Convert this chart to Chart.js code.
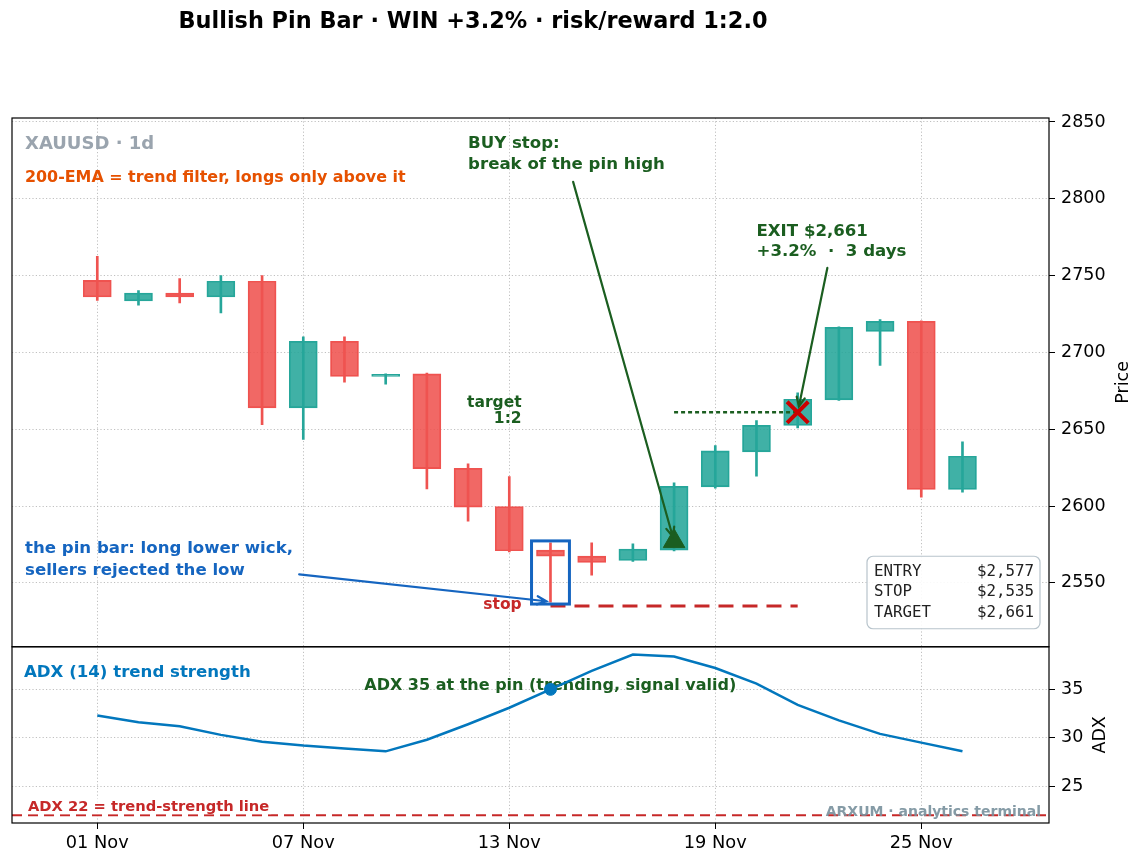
<!DOCTYPE html>
<html>
<head>
<meta charset="utf-8">
<title>Bullish Pin Bar</title>
<script src="https://cdn.jsdelivr.net/npm/chart.js@4.4.1/dist/chart.umd.min.js"></script>
<style>
  html, body { margin: 0; padding: 0; background: #fff; }
  #wrap { width: 1144px; height: 865px; }
</style>
</head>
<body>
<div id="wrap"><canvas id="chart" width="1144" height="865"></canvas></div>
<script>
// daily candles, index 0 = 01 Nov
const opens  = [2746.9, 2733.5, 2738.6, 2736.1, 2746.3, 2663.9, 2707.3, 2684.3, 2686.0, 2624.6, 2599.7,
                2571.3, 2567.4, 2564.6, 2571.3, 2612.5, 2635.3, 2652.4, 2669.1, 2713.6, 2720.3, 2610.8];
const highs  = [2762.6, 2740.2, 2748.0, 2750.0, 2750.0, 2710.1, 2710.1, 2686.0, 2686.5, 2627.5, 2619.2,
                2576.1, 2576.1, 2575.4, 2615.1, 2639.4, 2655.7, 2673.7, 2716.6, 2721.4, 2720.5, 2641.8];
const lows   = [2733.9, 2730.7, 2732.2, 2725.7, 2652.9, 2643.3, 2680.6, 2679.3, 2611.2, 2590.1, 2570.2,
                2537.4, 2555.0, 2564.0, 2570.8, 2611.6, 2619.4, 2650.9, 2668.8, 2691.6, 2605.8, 2609.1];
const closes = [2736.1, 2738.7, 2736.2, 2746.3, 2663.9, 2707.3, 2684.3, 2685.8, 2624.4, 2599.3, 2570.9,
                2567.4, 2563.3, 2572.0, 2612.9, 2635.9, 2652.6, 2669.5, 2716.4, 2720.3, 2610.8, 2632.4];
// ADX(14)
const adx    = [32.3, 31.6, 31.2, 30.3, 29.6, 29.2, 28.9, 28.6, 29.8, 31.4, 33.1,
                35.0, 36.9, 38.6, 38.4, 37.2, 35.6, 33.4, 31.8, 30.4, 29.5, 28.6];

const xTickPos    = [0, 5, 10, 15, 20];
const xTickLabels = ['01 Nov', '07 Nov', '13 Nov', '19 Nov', '25 Nov'];
const priceTicks  = [2550, 2600, 2650, 2700, 2750, 2800, 2850];
const adxTicks    = [25, 30, 35];

// the trade
const pinIndex = 11, entryIndex = 14, exitIndex = 17;
const entryPrice = 2577, stopPrice = 2535, targetPrice = 2661;
const adxLevel = 22;
const stats = [['ENTRY', '$2,577'], ['STOP', '$2,535'], ['TARGET', '$2,661']];

const X_MIN = -2.07, X_MAX = 23.1;
const F = 'DejaVu Sans';
Chart.defaults.font.family = F;

const TEAL = '#26a69a', RED = '#ef5350';
const idx = opens.map((_, i) => i);
const isUp = i => closes[i] >= opens[i];
const bodyData = idx.map(i => ({x: i, y: [opens[i], closes[i]]}));
const wickData = idx.map(i => ({x: i, y: [lows[i], highs[i]]}));

function label(ctx, str, x, y, font, color, align) {
    ctx.save();
    ctx.font = font;
    ctx.fillStyle = color;
    ctx.textAlign = align || 'left';
    ctx.textBaseline = 'middle';
    ctx.fillText(str, x, y);
    ctx.restore();
}

function arrow(ctx, x0, y0, x1, y1, color, lw, shrink) {
    const a = Math.atan2(y1 - y0, x1 - x0);
    x1 -= Math.cos(a) * shrink;
    y1 -= Math.sin(a) * shrink;
    ctx.save();
    ctx.strokeStyle = color;
    ctx.lineWidth = lw;
    ctx.lineCap = 'round';
    ctx.beginPath();
    ctx.moveTo(x0, y0);
    ctx.lineTo(x1, y1);
    const h = 10, w = 0.42;
    ctx.moveTo(x1 - h * Math.cos(a - w), y1 - h * Math.sin(a - w));
    ctx.lineTo(x1, y1);
    ctx.lineTo(x1 - h * Math.cos(a + w), y1 - h * Math.sin(a + w));
    ctx.stroke();
    ctx.restore();
}

const bold = s => 'bold ' + s + 'px "' + F + '"';
const green = '#1b5e20';

const annotations = {
    id: 'annotations',
    beforeDatasetsDraw(chart) {
        // sits under the ADX marker
        const sx = chart.scales.x, sa = chart.scales.yAdx;
        label(chart.ctx, 'ADX 35 at the pin (trending, signal valid)',
              sx.getPixelForValue(6.48), sa.getPixelForValue(35.4), bold(16), green);
    },
    afterDatasetsDraw(chart) {
        const ctx = chart.ctx, ca = chart.chartArea;
        const sx = chart.scales.x, sp = chart.scales.y, sa = chart.scales.yAdx;
        const X = v => sx.getPixelForValue(v);
        const P = v => sp.getPixelForValue(v);
        const A = v => sa.getPixelForValue(v);

        // box round the pin bar
        ctx.save();
        ctx.strokeStyle = '#1565c0';
        ctx.lineWidth = 3;
        const bx0 = X(pinIndex - 0.46), bx1 = X(pinIndex + 0.46);
        const by0 = P(highs[pinIndex] + 1.2), by1 = P(lows[pinIndex] - 1.2);
        ctx.strokeRect(bx0, by0, bx1 - bx0, by1 - by0);
        ctx.restore();

        // top panel texts
        label(ctx, 'XAUUSD · 1d', ca.left + 13, sp.top + 26, bold(18), '#9aa4ae');
        label(ctx, '200-EMA = trend filter, longs only above it', ca.left + 13, sp.top + 60, bold(15.9), '#e65100');

        label(ctx, 'BUY stop:', X(9), P(2835.8), bold(16.6), green);
        label(ctx, 'break of the pin high', X(9), P(2822.2), bold(16.6), green);
        arrow(ctx, X(11.55), P(2811), X(entryIndex), P(entryPrice), green, 2.2, 5);

        label(ctx, 'EXIT $2,661', X(16), P(2778.5), bold(16.6), green);
        label(ctx, '+3.2%  ·  3 days', X(16), P(2765.6), bold(16.6), green);
        arrow(ctx, X(17.72), P(2755), X(exitIndex), P(targetPrice), green, 2.2, 6);

        label(ctx, 'target', X(10.3), P(2667.4), bold(15.5), green, 'right');
        label(ctx, '1:2', X(10.3), P(2657.0), bold(15.5), green, 'right');
        label(ctx, 'stop', X(10.3), P(2535.9), bold(15.5), '#c62828', 'right');

        const blue = '#1565c0';
        label(ctx, 'the pin bar: long lower wick,', ca.left + 13, P(2572.4), bold(16.6), blue);
        label(ctx, 'sellers rejected the low', ca.left + 13, P(2558.1), bold(16.6), blue);
        arrow(ctx, X(4.9), P(2555.5), X(10.9), P(2538), blue, 2.2, 0);

        // stats box
        ctx.save();
        const bw = 173, bh = 72.5;
        const bx = ca.right - 9 - bw, by = sp.bottom - 18 - bh;
        ctx.beginPath();
        ctx.roundRect(bx, by, bw, bh, 6);
        ctx.fillStyle = 'rgba(255,255,255,0.9)';
        ctx.fill();
        ctx.strokeStyle = '#b8c4cc';
        ctx.lineWidth = 1.2;
        ctx.stroke();
        ctx.restore();
        stats.forEach((row, k) => {
            const yy = by + 15.5 + 20.6 * k;
            label(ctx, row[0], bx + 7, yy, '15.8px "DejaVu Sans Mono"', '#222');
            label(ctx, row[1], bx + bw - 6, yy, '15.8px "DejaVu Sans Mono"', '#222', 'right');
        });

        // ADX panel texts
        label(ctx, 'ADX (14) trend strength', ca.left + 12, sa.top + 26, bold(16.6), '#0277bd');

        ctx.save();
        ctx.font = bold(14.7);
        const t22 = 'ADX 22 = trend-strength line';
        const w22 = ctx.measureText(t22).width;
        ctx.fillStyle = 'rgba(255,255,255,0.75)';
        ctx.fillRect(ca.left + 14, A(adxLevel) - 17, w22 + 4, 16);
        ctx.restore();
        label(ctx, t22, ca.left + 16, A(adxLevel) - 8, bold(14.7), '#c62828');

        label(ctx, 'ARXUM · analytics terminal', ca.right - 8, sa.bottom - 11, bold(14), 'rgba(120,144,156,0.9)', 'right');
    },
    afterDraw(chart) {
        const ctx = chart.ctx, ca = chart.chartArea;
        const sp = chart.scales.y, sa = chart.scales.yAdx;
        // frames of both panels
        ctx.save();
        ctx.strokeStyle = '#000';
        ctx.lineWidth = 1.2;
        ctx.strokeRect(ca.left, sp.top, ca.right - ca.left, sp.bottom - sp.top);
        ctx.strokeRect(ca.left, sa.top, ca.right - ca.left, sa.bottom - sa.top);
        ctx.restore();

        // axis titles, reading upwards
        [[sp, 'Price', 1123], [sa, 'ADX', 1100]].forEach(([s, t, xx]) => {
            ctx.save();
            ctx.translate(xx, (s.top + s.bottom) / 2);
            ctx.rotate(-Math.PI / 2);
            label(ctx, t, 0, 0, '17.5px "' + F + '"', '#000', 'center');
            ctx.restore();
        });

        label(ctx, 'Bullish Pin Bar · WIN +3.2% · risk/reward 1:2.0', 473, 22, bold(22.4), '#000', 'center');
    }
};

const gridStyle = { color: '#b0b0b0', lineWidth: 0.8, tickLength: 6, tickColor: '#000', tickWidth: 1 };
const plain = v => String(v);

new Chart(document.getElementById('chart'), {
    type: 'bar',
    data: {
        datasets: [
            {
                label: 'wicks', data: wickData, yAxisID: 'y', order: 9,
                backgroundColor: idx.map(i => isUp(i) ? TEAL : RED),
                borderWidth: 0, barThickness: 2, grouped: false
            },
            {
                label: 'bodies', data: bodyData, yAxisID: 'y', order: 8,
                backgroundColor: idx.map(i => isUp(i) ? 'rgba(38,166,154,0.88)' : 'rgba(239,83,80,0.88)'),
                borderColor: idx.map(i => isUp(i) ? TEAL : RED),
                borderWidth: 1.2, borderSkipped: false, barThickness: 28, grouped: false
            },
            {
                type: 'line', label: 'ADX 22', yAxisID: 'yAdx', order: 7,
                data: [{x: X_MIN, y: adxLevel}, {x: X_MAX, y: adxLevel}],
                borderColor: '#c62828', borderWidth: 2, borderDash: [10, 6], pointRadius: 0
            },
            {
                type: 'line', label: 'ADX (14)', yAxisID: 'yAdx', order: 6,
                data: adx.map((v, i) => ({x: i, y: v})),
                borderColor: '#0277bd', borderWidth: 2.5, pointRadius: 0, tension: 0
            },
            {
                type: 'line', label: 'stop', yAxisID: 'y', order: 5,
                data: [{x: pinIndex, y: stopPrice}, {x: exitIndex, y: stopPrice}],
                borderColor: '#c62828', borderWidth: 3, borderDash: [15, 9], pointRadius: 0
            },
            {
                type: 'line', label: 'target', yAxisID: 'y', order: 5,
                data: [{x: entryIndex, y: targetPrice}, {x: exitIndex, y: targetPrice}],
                borderColor: '#1b5e20', borderWidth: 2.5, borderDash: [4, 3], pointRadius: 0
            },
            {
                type: 'line', label: 'entry', yAxisID: 'y', order: 2,
                data: [{x: entryIndex, y: entryPrice}], showLine: false,
                pointStyle: 'triangle', pointRadius: 12.5,
                backgroundColor: '#1b5e20', borderColor: '#1b5e20', borderWidth: 1
            },
            {
                type: 'line', label: 'exit', yAxisID: 'y', order: 1,
                data: [{x: exitIndex, y: targetPrice}], showLine: false,
                pointStyle: 'crossRot', pointRadius: 15, borderColor: '#cc0000', borderWidth: 4
            },
            {
                type: 'line', label: 'ADX at pin', yAxisID: 'yAdx', order: 1,
                data: [{x: pinIndex, y: adx[pinIndex]}], showLine: false,
                pointStyle: 'circle', pointRadius: 6, backgroundColor: '#0277bd', borderColor: '#0277bd'
            }
        ]
    },
    options: {
        responsive: false,
        maintainAspectRatio: false,
        devicePixelRatio: 1,
        animation: false,
        events: [],
        layout: { autoPadding: false, padding: { left: 12, top: 118, right: 0, bottom: 0 } },
        plugins: { legend: { display: false }, tooltip: { enabled: false }, title: { display: false } },
        scales: {
            x: {
                type: 'linear', position: 'bottom', min: X_MIN, max: X_MAX, offset: false,
                afterBuildTicks: s => { s.ticks = xTickPos.map(v => ({value: v})); },
                afterFit: s => { s.height = 42; s.paddingLeft = 0; s.paddingRight = 0; },
                ticks: {
                    callback: v => xTickLabels[xTickPos.indexOf(v)],
                    font: { size: 17.8 }, color: '#000', padding: 4, maxRotation: 0, autoSkip: false
                },
                grid: Object.assign({ offset: false }, gridStyle),
                border: { display: false, dash: [1.2, 2.2] }
            },
            y: {
                type: 'linear', position: 'right', stack: 'panels', stackWeight: 3,
                min: 2508.4, max: 2852.6,
                afterBuildTicks: s => { s.ticks = priceTicks.map(v => ({value: v})); },
                afterFit: s => { s.width = 95; },
                ticks: { callback: plain, font: { size: 17.5 }, color: '#000', padding: 6 },
                grid: gridStyle,
                border: { display: false, dash: [1.2, 2.2] }
            },
            yAdx: {
                type: 'linear', position: 'right', stack: 'panels', stackWeight: 1,
                min: 21.2, max: 39.4,
                afterBuildTicks: s => { s.ticks = adxTicks.map(v => ({value: v})); },
                afterFit: s => { s.width = 95; },
                ticks: { callback: plain, font: { size: 17.5 }, color: '#000', padding: 6 },
                grid: gridStyle,
                border: { display: false, dash: [1.2, 2.2] }
            }
        }
    },
    plugins: [annotations]
});
</script>
</body>
</html>
